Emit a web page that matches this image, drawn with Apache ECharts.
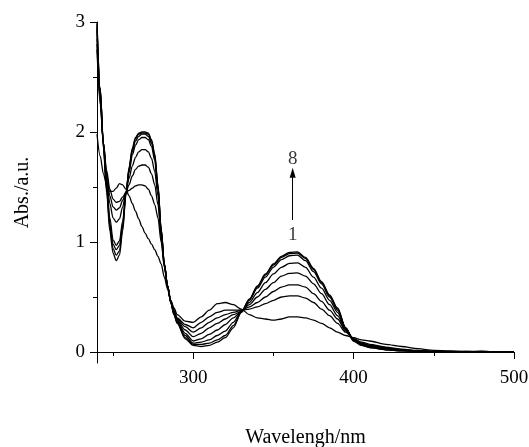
<!DOCTYPE html>
<html>
<head>
<meta charset="utf-8">
<script src="https://cdn.jsdelivr.net/npm/echarts@6/dist/echarts.min.js"></script>
<style>html,body{margin:0;padding:0;background:#fff}#c{width:529px;height:447px}</style>
</head>
<body>
<div id="c"></div>
<script>
const wavelengths = [240,242,244,246,248,250,252,254,256,258,
  260,262,264,266,268,270,272,274,276,278,280,282,284,286,288,290,
  295,300,305,310,315,320,325,330,
  335,340,345,350,355,360,365,370,375,380,385,390,395,400,405,410,420,430,440,450,
  460,470,480,490,500];

const curve1 = [1.98,1.78,1.62,1.52,1.46,1.46,1.49,1.53,1.52,1.48,
  1.42,1.35,1.28,1.21,1.14,1.08,1.03,0.98,0.93,0.87,0.80,0.68,0.57,0.47,0.40,0.34,
  0.28,0.27,0.32,0.38,0.44,0.45,0.43,0.39,
  0.34,0.31,0.30,0.29,0.30,0.32,0.32,0.31,0.29,0.26,0.22,0.18,0.15,0.13,0.11,0.10,0.07,0.05,0.03,0.015,
  0.01,0.005,0.005,0.0,0.0];
const curve2 = [2.75,2.25,1.90,1.65,1.48,1.39,1.36,1.37,1.41,1.45,
  1.47,1.49,1.51,1.52,1.52,1.51,1.48,1.42,1.34,1.22,1.00,0.77,0.60,0.47,0.38,0.31,
  0.25,0.22,0.27,0.32,0.36,0.38,0.38,0.38,
  0.39,0.41,0.44,0.47,0.50,0.51,0.51,0.49,0.45,0.39,0.33,0.26,0.18,0.12,0.09,0.07,0.045,0.025,0.015,0.005,
  0.005,0.0,0.005,0.0,0.0];
const curve3 = [2.80,2.28,1.90,1.62,1.42,1.32,1.29,1.31,1.38,1.45,
  1.52,1.60,1.66,1.69,1.70,1.70,1.68,1.62,1.52,1.34,1.04,0.78,0.60,0.46,0.37,0.30,
  0.23,0.18,0.22,0.27,0.31,0.34,0.36,0.38,
  0.41,0.45,0.50,0.55,0.59,0.61,0.61,0.59,0.53,0.46,0.38,0.30,0.19,0.12,0.08,0.06,0.04,0.02,0.01,0.005,
  0.0,0.005,0.0,0.0,0.0];
const curve4 = [2.85,2.30,1.90,1.58,1.35,1.22,1.18,1.21,1.32,1.45,
  1.58,1.69,1.77,1.82,1.84,1.84,1.82,1.76,1.64,1.42,1.07,0.79,0.60,0.46,0.36,0.29,
  0.20,0.14,0.17,0.22,0.26,0.30,0.34,0.37,
  0.43,0.50,0.57,0.63,0.69,0.715,0.72,0.69,0.62,0.53,0.43,0.33,0.20,0.12,0.08,0.06,0.035,0.02,0.01,0.005,
  0.0,0.0,0.005,0.0,0.0];
const curve5 = [2.92,2.36,1.90,1.53,1.22,1.02,0.97,1.01,1.19,1.44,
  1.63,1.79,1.88,1.93,1.95,1.95,1.93,1.87,1.74,1.48,1.10,0.80,0.60,0.45,0.35,0.28,
  0.17,0.10,0.12,0.16,0.20,0.25,0.31,0.37,
  0.45,0.54,0.63,0.71,0.77,0.805,0.81,0.77,0.68,0.58,0.47,0.36,0.21,0.11,0.07,0.05,0.03,0.015,0.01,0.0,
  0.0,0.0,0.0,0.0,0.0];
const curve6 = [2.95,2.38,1.88,1.50,1.17,0.98,0.93,0.97,1.16,1.44,
  1.65,1.82,1.92,1.96,1.98,1.98,1.96,1.90,1.77,1.50,1.11,0.80,0.60,0.45,0.35,0.27,
  0.15,0.08,0.09,0.11,0.15,0.19,0.27,0.37,
  0.47,0.58,0.68,0.77,0.84,0.875,0.88,0.83,0.73,0.62,0.50,0.38,0.22,0.11,0.07,0.05,0.03,0.015,0.01,0.0,
  0.0,0.0,0.0,0.0,0.0];
const curve7 = [2.98,2.40,1.87,1.48,1.14,0.94,0.88,0.92,1.13,1.43,
  1.67,1.84,1.94,1.98,1.99,1.99,1.98,1.92,1.79,1.51,1.12,0.80,0.60,0.45,0.34,0.27,
  0.13,0.07,0.07,0.08,0.11,0.15,0.24,0.36,
  0.48,0.59,0.70,0.79,0.86,0.895,0.90,0.85,0.75,0.63,0.51,0.39,0.22,0.10,0.06,0.04,0.02,0.01,0.005,0.0,
  0.0,0.0,0.0,0.0,0.0];
const curve8 = [3.00,2.40,1.85,1.45,1.10,0.90,0.83,0.88,1.10,1.42,
  1.68,1.85,1.95,1.99,2.00,2.00,1.99,1.93,1.80,1.52,1.12,0.80,0.60,0.45,0.34,0.26,
  0.12,0.06,0.05,0.06,0.09,0.13,0.22,0.36,
  0.48,0.60,0.71,0.80,0.87,0.905,0.91,0.86,0.76,0.64,0.52,0.40,0.22,0.10,0.06,0.04,0.02,0.01,0.005,0.0,
  0.0,0.0,0.0,0.0,0.0];

const curves = [curve1,curve2,curve3,curve4,curve5,curve6,curve7,curve8];

const xMajorTicks = [300,400,500];
const xMinorTicks = [250,350,450];
const yMajorTicks = [0,1,2,3];
const yMinorTicks = [0.5,1.5,2.5];

// annotation: arrow from curve 1 to curve 8 at the 362 nm band
const annotX = 362;
const annotLabels = [{text:'8', y:1.755},{text:'1', y:1.064}];
const arrowFrom = 1.20, arrowTo = 1.63;

const FONT = 'Liberation Serif';
const chart = echarts.init(document.getElementById('c'), null, {renderer:'canvas'});

const series = curves.map((c,i) => ({
  type:'line', name:'c'+(i+1), xAxisIndex:0, yAxisIndex:0,
  data: wavelengths.map((w,j)=>[w,c[j]]),
  showSymbol:false, smooth:0.3, smoothMonotone:'x',
  lineStyle:{color:'#000', width:1.3}, silent:true, animation:false
}));

series.push({
  type:'scatter', xAxisIndex:0, yAxisIndex:0, symbolSize:0, silent:true, animation:false,
  data: annotLabels.map(a=>({value:[annotX,a.y], name:a.text})),
  label:{show:true, position:'inside', formatter:p=>p.name, color:'#000', fontFamily:FONT, fontSize:19}
});
series.push({
  type:'line', xAxisIndex:0, yAxisIndex:0, data:[], silent:true, animation:false,
  markLine:{
    silent:true, animation:false, symbol:['none','triangle'], symbolSize:[6,10],
    label:{show:false}, lineStyle:{color:'#000', width:1, type:'solid'},
    data:[[{coord:[annotX,arrowFrom]},{coord:[annotX,arrowTo]}]]
  }
});

const axisCommonX = {type:'value', min:240, max:500, splitLine:{show:false}};
const axisCommonY = {type:'value', min:-0.1, max:3, splitLine:{show:false}};

chart.setOption({
  animation:false,
  backgroundColor:'#fff',
  grid:{left:97, right:15, top:22, bottom:84, outerBoundsMode:'none', containLabel:false},
  xAxis:[
    Object.assign({}, axisCommonX, {
      position:'bottom',
      name:'Wavelengh/nm', nameLocation:'middle', nameGap:65,
      nameTextStyle:{fontFamily:FONT, fontSize:20, color:'#000'},
      axisLine:{show:true, lineStyle:{color:'#000', width:1}},
      axisTick:{show:true, inside:false, length:7, customValues:xMajorTicks, lineStyle:{color:'#000'}},
      axisLabel:{show:true, customValues:xMajorTicks, margin:6, fontFamily:FONT, fontSize:19, color:'#000'}
    }),
    Object.assign({}, axisCommonX, {
      position:'bottom',
      axisLine:{show:false},
      axisTick:{show:true, inside:false, length:4, customValues:xMinorTicks, lineStyle:{color:'#000'}},
      axisLabel:{show:false}
    })
  ],
  yAxis:[
    Object.assign({}, axisCommonY, {
      position:'left',
      name:'Abs./a.u.', nameLocation:'middle', nameGap:64, nameRotate:90,
      nameTextStyle:{fontFamily:FONT, fontSize:20, color:'#000'},
      axisLine:{show:true, lineStyle:{color:'#000', width:1}},
      axisTick:{show:true, inside:false, length:7, customValues:yMajorTicks, lineStyle:{color:'#000'}},
      axisLabel:{show:true, customValues:yMajorTicks, margin:12, fontFamily:FONT, fontSize:19, color:'#000'}
    }),
    Object.assign({}, axisCommonY, {
      position:'left',
      axisLine:{show:false},
      axisTick:{show:true, inside:false, length:4, customValues:yMinorTicks, lineStyle:{color:'#000'}},
      axisLabel:{show:false}
    })
  ],
  series: series
});
</script>
</body>
</html>
